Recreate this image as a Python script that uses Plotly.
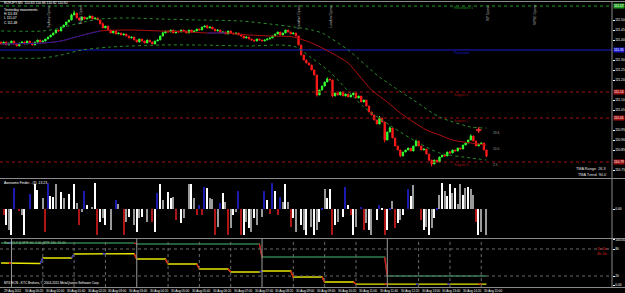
import plotly.graph_objects as go

W, H = 625, 293
RIGHT = 612  # right edge of the plotting area (px)

# ---------------- data ----------------
symbol_title = "EURJPY,M5  110.83 110.86 110.82 110.82"
yesterday = ["Yesterday movements", "H 111.83", "L 111.07", "C 111.48"]

# M5 closes, bar 0 = 29 Aug 23:40
close = [
    111.38, 111.39, 111.375, 111.385, 111.395, 111.38, 111.37, 111.385, 111.39, 111.38,
    111.395, 111.385, 111.375, 111.39, 111.40, 111.39, 111.395, 111.405,
    111.415, 111.425, 111.435, 111.45, 111.445, 111.465, 111.475, 111.49, 111.50, 111.525, 111.535,
    111.51, 111.50, 111.515, 111.505, 111.51, 111.52, 111.505, 111.51, 111.50,
    111.48, 111.46, 111.47, 111.45, 111.435, 111.445, 111.43, 111.435,
    111.425, 111.43, 111.42, 111.41, 111.415, 111.40, 111.39, 111.405, 111.395, 111.385,
    111.40, 111.39, 111.38, 111.395, 111.40,
    111.42, 111.435, 111.445, 111.44, 111.45, 111.435, 111.445, 111.44, 111.45, 111.445,
    111.435, 111.45, 111.44, 111.445, 111.455, 111.45,
    111.465, 111.47, 111.46, 111.465, 111.455, 111.445, 111.45, 111.435,
    111.44, 111.43, 111.445, 111.435, 111.43, 111.435, 111.425, 111.42, 111.41, 111.415,
    111.405, 111.40, 111.395, 111.405, 111.40, 111.395, 111.40, 111.405, 111.41, 111.42,
    111.43, 111.44, 111.425, 111.435, 111.45, 111.44, 111.43, 111.435, 111.42,
    111.375, 111.325, 111.30, 111.285, 111.275, 111.25, 111.225,
    111.125, 111.15, 111.17, 111.19, 111.205, 111.20, 111.12, 111.135, 111.125, 111.14,
    111.12, 111.13, 111.115, 111.125, 111.135, 111.11, 111.12, 111.09, 111.10, 111.07,
    111.04, 111.025, 111.00, 110.98, 111.01, 110.99, 110.90, 110.94, 110.96, 110.91,
    110.87, 110.85, 110.82, 110.84, 110.85, 110.86, 110.845, 110.87, 110.895, 110.87,
    110.85, 110.855, 110.83, 110.80, 110.78, 110.80, 110.79, 110.815, 110.825, 110.82,
    110.84, 110.835, 110.85, 110.845, 110.86, 110.855, 110.875, 110.885, 110.90, 110.92,
    110.895, 110.87, 110.88, 110.885, 110.85, 110.82,
]
first_open = 111.39
wick_hi = {28: 0.012, 27: 0.006, 39: 0.008, 62: 0.006, 79: 0.006, 125: 0.008, 145: 0.01,
           149: 0.008, 159: 0.006, 172: 0.005, 180: 0.008}
wick_lo = {14: 0.006, 121: 0.008, 127: 0.006, 147: 0.012, 153: 0.006, 165: 0.012,
           164: 0.006, 186: 0.006}

# TMA centred line and bands, read at sample bars
tma_bar = [0, 16, 23, 30, 38, 49, 61, 72, 79, 86, 95, 103, 112, 119, 126, 133, 137, 142,
           148, 153, 158, 163, 168, 173, 180, 186]
tma_mid = [111.38, 111.385, 111.395, 111.42, 111.445, 111.45, 111.445, 111.44, 111.435,
           111.435, 111.425, 111.42, 111.415, 111.385, 111.34, 111.285, 111.225, 111.15,
           111.09, 111.035, 110.99, 110.95, 110.925, 110.90, 110.885, 110.875]
tma_rising = [(0, 40), (79, 86)]
up_bar = [0, 16, 23, 30, 38, 49, 61, 76, 92, 103, 115, 119, 123, 133, 145, 158, 168, 180, 186]
up_val = [111.445, 111.445, 111.46, 111.485, 111.505, 111.51, 111.505, 111.50, 111.495,
          111.48, 111.46, 111.45, 111.435, 111.35, 111.215, 111.10, 111.015, 110.965, 110.96]
lo_bar = [0, 16, 23, 31, 42, 61, 76, 95, 107, 113, 119, 126, 139, 150, 160, 168, 180, 186]
lo_val = [111.31, 111.31, 111.325, 111.35, 111.365, 111.375, 111.375, 111.37, 111.375,
          111.365, 111.31, 111.24, 111.065, 110.965, 110.885, 110.835, 110.81, 110.80]

level_names = ["Resistance 1", "Pivot point", "Support 1", "Support 2", "Support 3"]
level_vals = [111.57, 111.35, 111.14, 111.01, 110.79]

signal_bar, signal_val = 183, 110.95
tma_marks = ["23.6", "10.0", "2.5"]
tma_mark_vals = [110.935, 110.855, 110.775]
tma_info = ["TMA Range  26.3", "TMA Trend  90.0"]

# histogram sub-window (bar, value, state)
hist_bar = [1, 2, 3, 4, 5, 7, 8, 9, 11, 13, 14, 16, 17, 18, 19, 20, 21, 23, 24, 26, 28, 29, 30,
            31, 32, 33, 35, 36, 37, 38, 39, 40, 42, 44, 45, 47, 48, 49, 51, 52, 53, 54, 56, 58,
            59, 60, 61, 62, 64, 65, 66, 67, 69, 70, 72, 73, 74, 75, 76, 77, 78, 79,
            80, 81, 82, 83, 84, 85, 86, 87, 88, 89, 90, 91, 92, 93, 94, 95, 96, 97, 98, 100,
            101, 102, 103, 104, 105, 106, 107, 108, 109, 110, 111, 112, 113, 115, 116, 117,
            119, 120, 121, 122, 123, 124, 125, 126, 127, 128, 129, 131, 132, 133, 134, 135,
            136, 138, 139, 140, 141, 142, 144, 145, 146, 147, 148, 149, 150, 151, 152, 153,
            154, 156, 157, 158, 161, 162, 163, 164, 165, 166, 167, 168, 169, 170, 171, 172,
            173, 174, 175, 176, 177, 178, 179, 180, 181, 182, 183, 184, 186]
hist_val = [-23, -63, -83, -103, 86, -7, -23, -103, 60, 100, 77, 46, -90, 104, 54, 50, 100,
            70, 44, 60, 100, 24, -63, -10, 73, 17, 10, 104, -103, -50, -36, -63, -83, 37, 20,
            -103, -50, -30, -63, -90, -36, -30, -50, -50, -90, 64, 100, 37, 70, 44, 50, -43,
            -56, -36, 100, 100, 44, -23, 17, -23, 90, 86,
            44, 40, -103, -70, 24, 67, 30, -103, -76, -23, -10, 73, -103, -103, -50, -76, -90,
            -36, -63, -30, 73, 37, -17, 104, 73, -23, 50, 30, 100, 30, -70, -36, -90, -63,
            -83, -103, -70, -103, -83, -50, 7, 80, 44, 80, -103, -63, -50, -30, 90, 17, -23,
            -103, -70, 10, -83, -56, -83, -103, -43, 17, 5, -103, -83, 7, 34, -76, -56, -43,
            -23, 80, 54, 97, -43, -83, -70, -103, -76, -36, 7, 58, 104, 73, 54, 100, 64, 86,
            20, 100, 58, 86, 90, 80, 58, -50, -103, -90, -103]
hist_state = ["R", "W", "S", "W", "B", "R", "S", "W", "B", "W", "W", "S", "R", "B", "W", "W",
              "S", "W", "S", "W", "W", "S", "R", "S", "B", "W", "S", "W", "R", "W", "S", "W",
              "S", "B", "S", "R", "S", "W", "S", "W", "S", "W", "S", "R", "W", "B", "W", "S",
              "W", "W", "S", "R", "W", "S", "S", "W", "S", "R", "B", "R", "B", "W",
              "S", "S", "R", "S", "B", "W", "S", "R", "S", "W", "S", "B", "R", "W", "S", "W",
              "S", "W", "S", "S", "B", "W", "R", "B", "W", "R", "B", "S", "W", "S", "R", "W",
              "S", "W", "S", "W", "S", "W", "S", "W", "B", "S", "W", "W", "R", "W", "S", "W",
              "B", "W", "R", "W", "S", "B", "R", "S", "W", "S", "W", "B", "W", "R", "W", "B",
              "S", "R", "W", "S", "W", "B", "W", "S", "R", "W", "S", "W", "S", "W", "B", "S",
              "W", "S", "W", "W", "S", "W", "S", "S", "W", "S", "W", "S", "S", "R", "W", "S",
              "S"]
hist_title = "Awesome Finder - (3) -13.23"

# multi-timeframe stochastic sub-window: one value per hour / per 4 hours
h1_start = [-8, 4, 16, 28, 40, 52, 64, 76, 88, 100, 112, 124, 136, 148, 160, 172, 184]
h1_val = [48.9, 47.8, 60.0, 68.9, 69.5, 57.8, 46.7, 35.6, 28.9, 31.1, 17.8, 6.7, 2.2, 1.8,
          1.8, 2.5, 2.0]
h4_start = [-44, 4, 52, 100, 148]
h4_val = [93.3, 93.3, 91.1, 62.2, 20.0]
stoch_title = "Stoch(5,3,3) MTF 60: 2.00  MTF 240: 20.00"
tf_labels = ["1h: Dn", "4h: Dn"]

n_bars = len(close)
time_label_bar = list(range(0, 185, 8))
time_labels = ["29 Aug 2011"] + [
    "30 Aug %02d:%02d" % divmod(20 + 40 * k, 60) for k in range(len(time_label_bar) - 1)]
sessions = [("Sydney Opens", 16), ("Tokyo Opens", 28), ("Frankfurt Opens", 112),
            ("London Opens", 124), ("NY Opens", 184), ("NYSE Opens", 202)]
footer = "MT4 ECN - KTC Brokers, \u00a9 2004-2011 MetaQuotes Software Corp."

# ---------------- figure ----------------
def py(y):
    return 1 - y / H

XR = [-0.4, (RIGHT - 1) / 2.61]
FONT = "Liberation Sans"

bars = list(range(n_bars))
opens = [first_open] + close[:-1]
highs = [max(o, c) + wick_hi.get(i, 0.0) for i, (o, c) in enumerate(zip(opens, close))]
lows = [min(o, c) - wick_lo.get(i, 0.0) for i, (o, c) in enumerate(zip(opens, close))]

fig = go.Figure()

# levels
lvl_col = ["#1f9e1f", "#1c1cd0", "#a01010", "#a01010", "#a01010"]
for name, v, c in zip(level_names, level_vals, lvl_col):
    fig.add_trace(go.Scatter(x=XR, y=[v, v], mode="lines", xaxis="x", yaxis="y",
                             line=dict(color=c, width=1, dash="solid" if name == "Pivot point" else "dot"),
                             hoverinfo="skip"))

# bands
for xs, ys in ((up_bar, up_val), (lo_bar, lo_val)):
    fig.add_trace(go.Scatter(x=xs, y=ys, mode="lines",
                             line=dict(color="#2a8a2a", width=1, dash="dot", shape="spline",
                                       smoothing=0.7), hoverinfo="skip"))
# centre line
fig.add_trace(go.Scatter(x=tma_bar, y=tma_mid, mode="lines",
                         line=dict(color="#b01010", width=1, shape="spline", smoothing=0.7),
                         hoverinfo="skip"))
for a, b in tma_rising:
    xs = [x for x in tma_bar if a <= x <= b]
    ys = [v for x, v in zip(tma_bar, tma_mid) if a <= x <= b]
    fig.add_trace(go.Scatter(x=xs, y=ys, mode="lines",
                             line=dict(color="#1a1aa0", width=1, shape="spline", smoothing=0.7),
                             hoverinfo="skip"))

fig.add_trace(go.Candlestick(x=bars, open=opens, high=highs, low=lows, close=close,
                             increasing=dict(line=dict(color="#33ff33", width=1), fillcolor="#33ff33"),
                             decreasing=dict(line=dict(color="#ff1a1a", width=1), fillcolor="#ff1a1a"),
                             whiskerwidth=0, hoverinfo="skip"))
fig.add_trace(go.Scatter(x=[signal_bar], y=[signal_val], mode="markers",
                         marker=dict(symbol="cross-thin", size=4, line=dict(color="#ff3030", width=1.5))))

# histogram
hcol = {"B": "#1a1ab0", "W": "#ffffff", "S": "#9a9a9a", "R": "#b01515"}
fig.add_trace(go.Bar(x=hist_bar, y=hist_val, xaxis="x2", yaxis="y2", width=0.5,
                     marker=dict(color=[hcol[s] for s in hist_state], line=dict(width=0))))

# stochastic step lines
def steps(starts, vals):
    out = []
    for i in bars:
        k = max(j for j, s in enumerate(starts) if s <= i)
        out.append(vals[k])
    return out

for starts, vals, col in ((h4_start, h4_val, "#2e7d4f"), (h1_start, h1_val, "#e8e800")):
    ser = steps(starts, vals)
    fig.add_trace(go.Scatter(x=bars, y=ser, mode="lines", xaxis="x3", yaxis="y3",
                             line=dict(color=col, width=1.3), hoverinfo="skip"))
    for i in bars[1:]:
        if ser[i] != ser[i - 1] or i in starts:
            c = "#2020e0" if ser[i] >= ser[i - 1] else "#e01010"
            fig.add_trace(go.Scatter(x=[i - 1, i], y=[ser[i - 1], ser[i]], mode="lines",
                                     xaxis="x3", yaxis="y3", line=dict(color=c, width=1.3),
                                     hoverinfo="skip"))

shapes = []
# hour separators in the bottom window
for s in h1_start[1:]:
    solid = s in h4_start
    shapes.append(dict(type="line", xref="x3", yref="paper", x0=s, x1=s, y0=py(287), y1=py(239),
                       line=dict(color="#9a9a9a" if solid else "#6a6a6a", width=1,
                                 dash="solid" if solid else "dot")))
for lv in (20, 80):
    shapes.append(dict(type="line", xref="paper", yref="y3", x0=0, x1=RIGHT / W, y0=lv, y1=lv,
                       line=dict(color="#6a6a6a", width=1, dash="dot")))
# frames
for yy in (1.5, 178.5, 238.5, 287.5):
    shapes.append(dict(type="line", xref="paper", yref="paper", x0=0, x1=1, y0=py(yy), y1=py(yy),
                       line=dict(color="#8a8a8a", width=1)))
shapes.append(dict(type="line", xref="paper", yref="paper", x0=RIGHT / W, x1=RIGHT / W,
                   y0=py(288), y1=py(1.5), line=dict(color="#8a8a8a", width=1)))

ann = []
def txt(x, y, s, size=3.4, color="#ffffff", xref="paper", yref="paper", **kw):
    ann.append(dict(x=x, y=y, text=s, xref=xref, yref=yref, showarrow=False,
                    font=dict(family=FONT, size=size, color=color),
                    xanchor=kw.pop("xanchor", "left"), yanchor=kw.pop("yanchor", "middle"), **kw))

txt(2 / W, py(3.5), symbol_title, size=3.4)
for k, s in enumerate(yesterday):
    txt(2 / W, py(10 + 4.2 * k), s, size=3.4)
for name, v, c in zip(level_names, level_vals, lvl_col):
    txt(452 / W, v, name, size=3.3, color=c, yref="y", yshift=-2.5)
    ann.append(dict(x=RIGHT / W + 0.002, y=v, xref="paper", yref="y", text="%.2f" % v,
                    showarrow=False, xanchor="left", yanchor="middle",
                    font=dict(family=FONT, size=3.3, color="#ffffff"), bgcolor=c, borderpad=0))
for s, b in sessions:
    ann.append(dict(x=b, y=py(2.5), xref="x", yref="paper", text=s, textangle=-90, showarrow=False,
                    xanchor="left", yanchor="top", xshift=2,
                    font=dict(family=FONT, size=3.4, color="#b0b0b0")))
for s, v in zip(tma_marks, tma_mark_vals):
    txt(491 / W, v, s, size=3.2, color="#a0a0a0", yref="y")
txt(608 / W, py(169), tma_info[0], size=3.8, color="#e0e0e0", xanchor="right")
txt(608 / W, py(175), tma_info[1], size=3.8, color="#e0e0e0", xanchor="right")
txt(2 / W, py(182.5), hist_title, size=3.4)
txt(2 / W, py(242.5), stoch_title, size=3.2, color="#9fc79f")
txt(609 / W, py(249), tf_labels[0], size=3.4, color="#e02020", xanchor="right")
txt(609 / W, py(254), tf_labels[1], size=3.4, color="#e02020", xanchor="right")
txt(2 / W, py(283), footer, size=3.2)
for b, s in zip(time_label_bar, time_labels):
    ann.append(dict(x=b, y=py(290.5), xref="x3", yref="paper", text=s, showarrow=False,
                    xanchor="left", yanchor="middle", xshift=1,
                    font=dict(family=FONT, size=3.1, color="#ffffff")))

# price ticks, leaving room for the coloured level boxes
price_ticks = [round(110.75 + 0.05 * k, 2) for k in range(17)]
price_ticks = [t for t in price_ticks if min(abs(t - v) for v in level_vals) > 0.02]

ax = dict(range=XR, showgrid=False, zeroline=False, showticklabels=False, domain=[0, RIGHT / W],
          fixedrange=True)
yax = dict(side="right", showgrid=False, zeroline=False, ticks="outside", ticklen=1.5,
           tickcolor="#ffffff", tickfont=dict(family=FONT, size=3.3, color="#ffffff"))
fig.update_layout(
    width=W, height=H, margin=dict(l=0, r=0, t=0, b=0),
    paper_bgcolor="#000000", plot_bgcolor="#000000", showlegend=False,
    xaxis=dict(ax, anchor="y", rangeslider=dict(visible=False)),
    xaxis2=dict(ax, anchor="y2"),
    xaxis3=dict(ax, anchor="y3"),
    yaxis=dict(yax, domain=[py(177.5), py(2)], range=[110.7125, 111.59],
               tickvals=price_ticks, tickformat=".2f"),
    yaxis2=dict(yax, domain=[py(237), py(179)], range=[-111, 121], tickvals=[0],
                ticktext=["0.00"]),
    yaxis3=dict(yax, domain=[py(287), py(239)], range=[-4.4, 102.2], tickvals=[0, 20, 80, 100],
                ticktext=["0.00", "20", "80", "100.00"]),
    shapes=shapes, annotations=ann, bargap=0,
)
fig.write_html("out.html")
